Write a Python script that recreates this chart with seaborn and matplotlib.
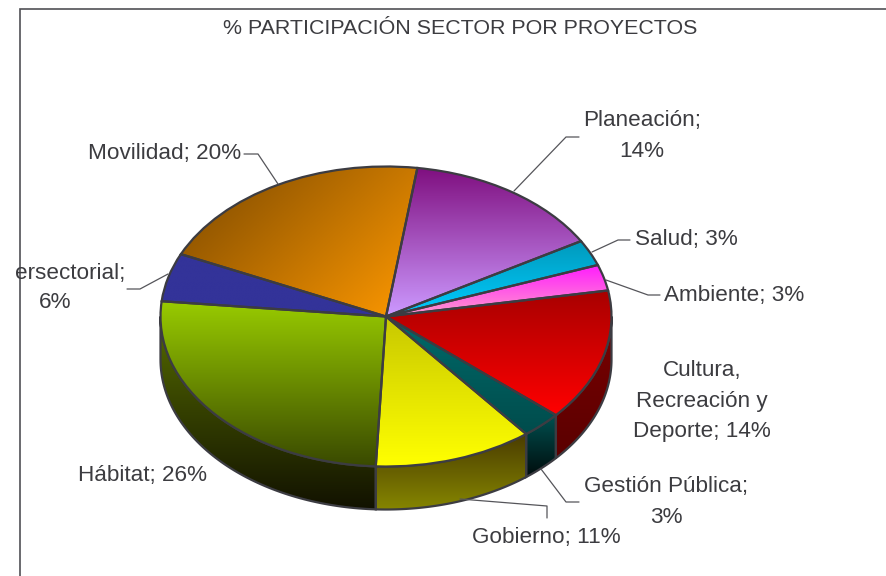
import numpy as np
import matplotlib
matplotlib.use("Agg")
import matplotlib.pyplot as plt
import seaborn as sns
from matplotlib.colors import LinearSegmentedColormap

# datos (las porciones se estiman de los angulos)
sectores = ["Planeación", "Salud", "Ambiente", "Cultura", "Gestión Pública",
            "Gobierno", "Hábitat", "Intersectorial", "Movilidad"]
participacion = [14.4, 2.8, 2.8, 14.2, 2.9, 11.4, 25.9, 5.2, 20.4]

# colores: arriba -> abajo
color_sup = ["#7f0f7f", "#0099bb", "#ff1aff", "#a80000", "#006a6a",
             "#c8c800", "#99cc00", "#333399", "#7a4800"]
color_inf = ["#cc99ff", "#00ccff", "#ff99cc", "#ff0000", "#004c4c",
             "#ffff00", "#3a4a00", "#333399", "#ff9900"]
inclinacion = [0, 0, 0, 0, 0, 0, 0, 0, 0.6]
lado_sup = {"Cultura": "#7a0000", "Gestión Pública": "#005050",
            "Gobierno": "#4a3c00", "Hábitat": "#566c00"}
lado_inf = {"Cultura": "#5a0000", "Gestión Pública": "#000c0c",
            "Gobierno": "#858500", "Hábitat": "#121200"}

ANCHO, ALTO = 887, 576
CX, CY, RX, RY, PROF = 386, 316.5, 225.5, 150, 43
BORDE = "#3c3c42"
TEXTO = "#3c3c40"

sns.set_theme(style="white")
plt.rcParams['font.family'] = ['Liberation Sans', 'DejaVu Sans']

fig = plt.figure(figsize=(ANCHO / 100, ALTO / 100), dpi=100, facecolor="white")

# ejes del pastel: radio 1 en x e y, la elipse sale de los limites
ax = fig.add_axes([0, 0, 1, 1])
wedges, _ = ax.pie(participacion, startangle=82, counterclock=False,
                   wedgeprops=dict(edgecolor=BORDE, linewidth=1.6))
lim_x = (-CX / RX, (ANCHO - CX) / RX)
lim_y = ((CY - ALTO) / RY, CY / RY)


def degradado(patch_path, c1, c2, tilt, z, clip):
    caja = patch_path.get_extents()
    yy, xx = np.mgrid[0:1:200j, 0:1:200j]
    t = (1 - tilt) * yy + tilt * xx
    cmap = LinearSegmentedColormap.from_list("g", [c1, c2])
    im = ax.imshow(t, cmap=cmap, vmin=0, vmax=1, aspect="auto", origin="upper",
                   extent=(caja.x0, caja.x1, caja.y0, caja.y1), zorder=z)
    im.set_clip_path(clip)


# pared lateral, solo la mitad de abajo se ve
for w, nombre in zip(wedges, sectores):
    a1 = max(w.theta1, -180)
    a2 = min(w.theta2, 0)
    if a1 >= a2:
        continue
    ang = np.radians(np.linspace(a1, a2, 80))
    xs = np.r_[np.cos(ang), np.cos(ang)[::-1]]
    ys = np.r_[np.sin(ang), np.sin(ang)[::-1] - PROF / RY]
    lado = ax.fill(xs, ys, facecolor="none", edgecolor=BORDE, linewidth=1.6, zorder=2)[0]
    degradado(lado.get_path(), lado_sup[nombre], lado_inf[nombre], 0, 1, lado)

# cara superior
for w, c1, c2, tilt in zip(wedges, color_sup, color_inf, inclinacion):
    degradado(w.get_path(), c1, c2, tilt, 3, w)
    w.set_facecolor("none")
    w.set_zorder(4)

ax.set_aspect("auto")
ax.set_xlim(lim_x)
ax.set_ylim(lim_y)
ax.axis("off")

# capa en pixeles para marco, guias y rotulos
capa = fig.add_axes([0, 0, 1, 1], facecolor="none")
capa.set_xlim(0, ANCHO)
capa.set_ylim(ALTO, 0)
capa.axis("off")

capa.plot([20, 20, ANCHO], [ALTO, 9, 9], color="#505055", lw=1.2, solid_joinstyle="miter")

guias = [
    ([244, 258, 278], [154, 154, 184]),
    ([579, 566, 514], [137, 137, 191]),
    ([630, 618, 592], [240, 240, 252]),
    ([660, 648, 606], [295, 295, 280]),
    ([127, 140, 168], [289, 289, 274]),
    ([547, 547, 460], [518, 506, 499]),
    ([579, 566, 541], [502, 502, 469]),
]
for gx, gy in guias:
    capa.plot(gx, gy, color="#55555a", lw=0.9)

capa.text(460, 28.5, "% PARTICIPACIÓN SECTOR POR PROYECTOS", ha="center", va="center",
          fontsize=15.4, color=TEXTO)

rotulos = [
    ("Planeación;\n14%", 642, 136, "center"),
    ("Salud; 3%", 635, 240, "left"),
    ("Ambiente; 3%", 664, 295.5, "left"),
    ("Cultura,\nRecreación y\nDeporte; 14%", 702, 401, "center"),
    ("Gestión Pública;\n3%", 666, 502, "center"),
    ("Gobierno; 11%", 546, 538, "center"),
    ("Hábitat; 26%", 143, 476, "center"),
    ("Movilidad; 20%", 165, 154, "center"),
    ("ersectorial;", 125, 273, "right"),
    ("6%", 55, 303, "center"),
]
for txt, x, y, ha in rotulos:
    capa.text(x, y, txt, ha=ha, va="center", multialignment="center",
              fontsize=16.2, color=TEXTO, linespacing=1.6)

fig.savefig("out.png", dpi=100)
